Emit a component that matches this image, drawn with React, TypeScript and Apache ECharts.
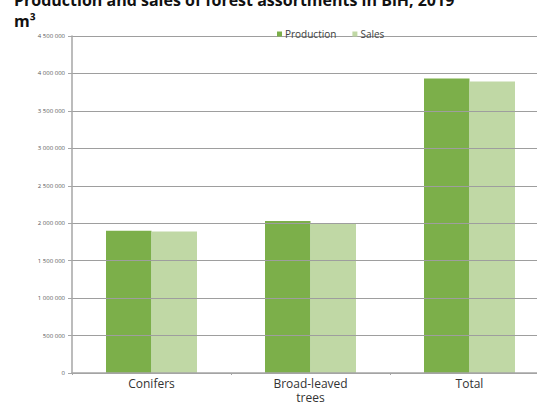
import React, { useEffect, useRef } from "react";
import * as echarts from "echarts";

const categories = ["Conifers", "Broad-leaved\ntrees", "Total"];
const production = [1900000, 2030000, 3934000];
const sales = [1888000, 2000000, 3894000];
const yTicks = { min: 0, max: 4500000, interval: 500000 };

function fmt(v: number): string {
  return String(v).replace(/\B(?=(\d{3})+(?!\d))/g, " ");
}

export default function App() {
  const ref = useRef<HTMLDivElement>(null);
  useEffect(() => {
    if (!ref.current) return;
    const chart = echarts.init(ref.current, null, { renderer: "svg" });
    chart.setOption({
      animation: false,
      title: {
        text: "Production and sales of forest assortments in BiH, 2019\nm³",
        left: 9,
        top: -16,
        textStyle: {
          fontFamily: "Open Sans",
          fontWeight: "bold",
          fontSize: 16,
          lineHeight: 21,
          color: "#111",
        },
      },
      legend: {
        top: 24,
        left: 272,
        itemWidth: 5,
        itemHeight: 5,
        itemGap: 16,
        icon: "rect",
        textStyle: { fontFamily: "Open Sans", fontSize: 10, color: "#404040", padding: [0, 0, 0, -2] },
        data: ["Production", "Sales"],
      },
      grid: { left: 72, width: 477, top: 36, bottom: 30, containLabel: false, outerBoundsMode: "none" },
      xAxis: {
        type: "category",
        data: categories,
        z: 4,
        axisLine: { lineStyle: { color: "#a6a6a6", width: 1.5 } },
        axisTick: { show: true, length: 2, lineStyle: { color: "#a6a6a6" } },
        axisLabel: { fontFamily: "Open Sans", fontSize: 12, color: "#333", lineHeight: 14, margin: 3 },
      },
      yAxis: {
        type: "value",
        min: yTicks.min,
        max: yTicks.max,
        interval: yTicks.interval,
        z: 4,
        axisLine: { show: true, lineStyle: { color: "#a6a6a6", width: 1.5 } },
        axisTick: { show: true, length: 4, lineStyle: { color: "#a6a6a6" } },
        axisLabel: { fontFamily: "Open Sans", fontSize: 6, color: "#595959", margin: 7, formatter: (v: number) => fmt(v) },
        splitLine: { show: true, lineStyle: { color: "#9e9e9e", width: 1.2 } },
      },
      series: [
        {
          name: "Production",
          type: "bar",
          data: production,
          barWidth: 45.5,
          barGap: "0%",
          z: 2,
          itemStyle: { color: "#7caf4a" },
        },
        {
          name: "Sales",
          type: "bar",
          data: sales,
          barWidth: 45.5,
          barGap: "0%",
          z: 2,
          itemStyle: { color: "#c0d8a5" },
        },
      ],
    });
    return () => chart.dispose();
  }, []);
  return <div ref={ref} style={{ width: 537, height: 403, position: "absolute", left: 0, top: 0 }} />;
}
